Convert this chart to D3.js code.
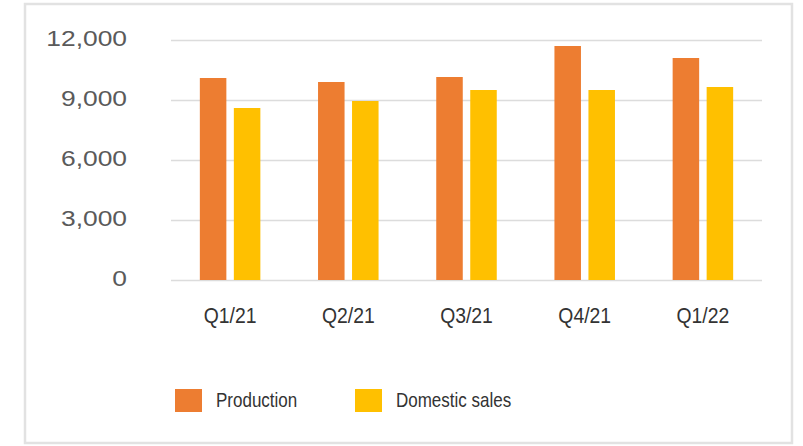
<!DOCTYPE html>
<html>
<head>
<meta charset="utf-8">
<script src="https://cdn.jsdelivr.net/npm/d3@7"></script>
<style>
  html, body { margin: 0; padding: 0; background: #fff; }
  svg { display: block; }
</style>
</head>
<body>
<svg id="chart" width="803" height="446"></svg>
<script>
const categories = ["Q1/21", "Q2/21", "Q3/21", "Q4/21", "Q1/22"];
const seriesNames = ["Production", "Domestic sales"];
const production = [10100, 9900, 10150, 11700, 11100];
const domesticSales = [8600, 8950, 9500, 9500, 9650];
const yTicks = [0, 3000, 6000, 9000, 12000];
const colors = ["#ED7D31", "#FFC000"];

const svg = d3.select("#chart");

// frame
svg.append("rect")
  .attr("x", 25).attr("y", 4).attr("width", 767).attr("height", 439)
  .attr("fill", "#fff").attr("stroke", "#e2e2e2").attr("stroke-width", 2.5);

const plotLeft = 171, plotRight = 762, plotTop = 40, plotBottom = 280;

const y = d3.scaleLinear().domain([0, 12000]).range([plotBottom, plotTop]);
const x0 = d3.scaleBand().domain(categories).range([plotLeft, plotRight])
  .paddingInner(0.488).paddingOuter(0.244);
const x1 = d3.scaleBand().domain(seriesNames).range([0, x0.bandwidth()])
  .paddingInner(0.22).paddingOuter(0);
const color = d3.scaleOrdinal().domain(seriesNames).range(colors);

// y axis with gridlines
const yAxis = svg.append("g")
  .attr("transform", `translate(${plotLeft},0)`)
  .call(d3.axisLeft(y).tickValues(yTicks).tickFormat(d3.format(",")).tickSize(-(plotRight - plotLeft)).tickPadding(0));
yAxis.select(".domain").remove();
yAxis.selectAll(".tick line").attr("stroke", "#dcdcdc").attr("stroke-width", 1.6);
yAxis.selectAll(".tick text")
  .attr("x", -44 / 1.2)
  .attr("dy", "0.25em")
  .attr("transform", "scale(1.2,1)")
  .attr("fill", "#5a5a5a")
  .style("font-family", "'Liberation Sans', Arial, sans-serif")
  .style("font-size", "22px");

// bars
const rows = categories.map((c, i) => ({ cat: c, values: [
  { key: seriesNames[0], value: production[i] },
  { key: seriesNames[1], value: domesticSales[i] }
]}));

const groups = svg.append("g").selectAll("g").data(rows).join("g")
  .attr("transform", d => `translate(${x0(d.cat)},0)`);
groups.selectAll("rect").data(d => d.values).join("rect")
  .attr("x", d => x1(d.key))
  .attr("width", x1.bandwidth())
  .attr("y", d => y(d.value))
  .attr("height", d => y(0) - y(d.value))
  .attr("fill", d => color(d.key));

// x axis labels
const xAxis = svg.append("g")
  .attr("transform", `translate(0,${plotBottom})`)
  .call(d3.axisBottom(x0).tickSize(0).tickPadding(0));
xAxis.select(".domain").remove();
xAxis.selectAll(".tick text")
  .attr("y", 43).attr("dy", "0")
  .attr("transform", "scale(0.88,1)")
  .attr("fill", "#333")
  .style("font-family", "'Liberation Sans', Arial, sans-serif")
  .style("font-size", "22px");

// legend
const legend = svg.append("g");
const legendX = [175, 355];
seriesNames.forEach((name, i) => {
  legend.append("rect")
    .attr("x", legendX[i]).attr("y", 389).attr("width", 27).attr("height", 23)
    .attr("fill", colors[i]);
  legend.append("text")
    .attr("transform", `translate(${legendX[i] + 41},406.5) scale(0.85,1)`)
    .attr("fill", "#333")
    .style("font-family", "'Liberation Sans', Arial, sans-serif")
    .style("font-size", "20px")
    .text(name);
});
</script>
</body>
</html>
